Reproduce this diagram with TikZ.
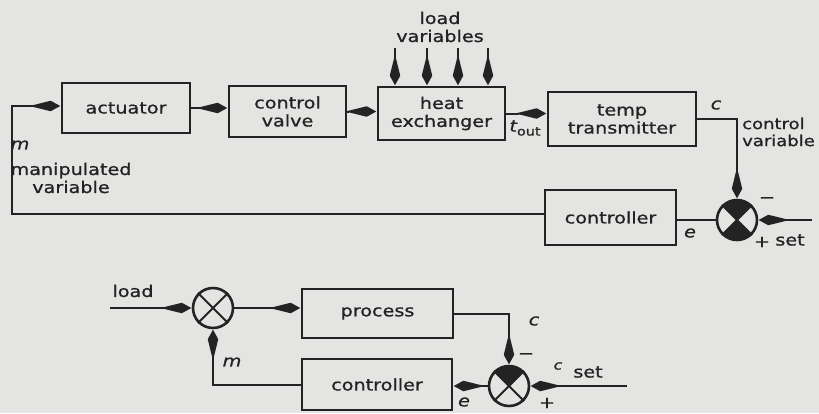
\documentclass[tikz,border=0pt]{standalone}
\usepackage{fontspec}
\setmainfont{DejaVu Sans}[FakeStretch=1.2, FakeBold=1]
\usetikzlibrary{arrows.meta}
\definecolor{paper}{RGB}{228,228,226}
\definecolor{ink}{RGB}{35,35,35}
\begin{document}
\begin{tikzpicture}[x=1pt,y=-1pt,
  blk/.style={draw=ink, line width=2.8pt, inner sep=0pt, align=center,
    font=\fontsize{16}{18}\selectfont, text=ink},
  lbl/.style={font=\fontsize{16}{18}\selectfont, text=ink, inner sep=0pt, align=center},
  ital/.style={font=\fontsize{16}{18}\selectfont\itshape, text=ink, inner sep=0pt},
  sumj/.style={circle, draw=ink, line width=2.6pt, minimum size=40pt, inner sep=0pt},
  conn/.style={draw=ink, line width=2pt},
  xl/.style={draw=ink, line width=1.8pt},
  arr/.style={conn, -{Stealth[length=10pt,width=9pt,inset=-22pt]}}]
\fill[paper] (0,0) rectangle (819,413);
\useasboundingbox (0,0) rectangle (819,413);

% ---------- upper diagram ----------
\node[blk, minimum width=128pt, minimum height=50pt] (act) at (126,108) {actuator};
\node[blk, minimum width=117pt, minimum height=51pt] (valve) at (287.5,111.5) {control\\valve};
\node[blk, minimum width=127pt, minimum height=53pt] (hx) at (441.5,113.5) {heat\\exchanger};
\node[blk, minimum width=148pt, minimum height=54pt] (tt) at (622,119) {temp\\transmitter};
\node[blk, minimum width=131pt, minimum height=55pt] (ctl) at (610.5,217.5) {controller};
\node[sumj] (sum1) at (737,220) {};

\begin{scope}
  \clip (sum1.center) circle[radius=20pt];
  \fill[ink] (sum1.center) -- ++(-30,-30) -- ++(60,0) -- cycle;
  \fill[ink] (sum1.center) -- ++(-30,30) -- ++(60,0) -- cycle;
\end{scope}
\draw[xl] (sum1.north west) -- (sum1.south east) (sum1.north east) -- (sum1.south west);

\draw[arr] (act.east) -- (act.east -| valve.west);
\draw[arr] (valve.east) -- (valve.east -| hx.west);
\draw[arr] (hx.east) -- (hx.east -| tt.west);
\coordinate (tcor) at (737,119);
\draw[arr] (tt.east) -- (tcor) -- (sum1.north);
\draw[conn] (sum1.west) -- (sum1.west -| ctl.east);
\coordinate (set1) at (812,220);
\draw[arr] (set1) -- (sum1.east);
\coordinate (fb1) at (12,214);
\coordinate (fb2) at (12,106);
\draw[arr] (ctl.west |- fb1) -- (fb1) -- (fb2) -- (fb2 -| act.west);

\coordinate (lv1) at (395,48);
\coordinate (lv2) at (427,48);
\coordinate (lv3) at (458,48);
\coordinate (lv4) at (488,48);
\draw[arr] (lv1) -- (lv1 |- hx.north);
\draw[arr] (lv2) -- (lv2 |- hx.north);
\draw[arr] (lv3) -- (lv3 |- hx.north);
\draw[arr] (lv4) -- (lv4 |- hx.north);

\node[lbl] (lvtxt) at (440,27) {load\\variables};
\node[ital] (tout) at (525,128) {t\raisebox{-4pt}{\fontsize{12}{12}\selectfont\upshape out}};
\node[ital] (clab) at (716,105) {c};
\node[lbl, align=left, anchor=west, font=\fontsize{15}{17}\selectfont] (cvtxt) at (742,132) {control\\variable};
\node[ital] (mlab) at (20,145) {m};
\node[lbl] (mvtxt) at (71,178) {manipulated\\variable};
\node[ital] (elab) at (690,233) {e};
\node[lbl] (minus1) at (767,200) {−};
\node[lbl] (plus1) at (762,242) {+};
\node[lbl] (set1txt) at (790,240) {set};

% ---------- lower diagram ----------
\node[sumj] (sum2) at (213,308) {};
\draw[xl] (sum2.north west) -- (sum2.south east) (sum2.north east) -- (sum2.south west);
\node[blk, minimum width=151pt, minimum height=49pt] (proc) at (377.5,313.5) {process};
\node[blk, minimum width=150pt, minimum height=51pt] (ctl2) at (377,384.5) {controller};
\node[sumj] (sum3) at (509,386) {};
\begin{scope}
  \clip (sum3.center) circle[radius=20pt];
  \fill[ink] (sum3.center) -- ++(-30,-30) -- ++(60,0) -- cycle;
\end{scope}
\draw[xl] (sum3.north west) -- (sum3.south east) (sum3.north east) -- (sum3.south west);

\coordinate (ld) at (110,308);
\draw[arr] (ld) -- (sum2.west);
\draw[arr] (sum2.east) -- (sum2.east -| proc.west);
\draw[arr] (ctl2.west) -- (ctl2.west -| sum2.south) -- (sum2.south);
\draw[arr] (proc.east) -- (proc.east -| sum3.north) -- (sum3.north);
\coordinate (set2) at (627,386);
\draw[arr] (set2) -- (sum3.east);
\draw[arr] (sum3.west) -- (sum3.west -| ctl2.east);

\node[lbl] (ldtxt) at (133,291) {load};
\node[ital] (m2lab) at (232,362) {m};
\node[ital] (c2lab) at (534,321) {c};
\node[lbl] (minus2) at (526,356) {−};
\node[ital, font=\fontsize{13}{14}\selectfont\itshape] (c3lab) at (558,366) {c};
\node[lbl] (set2txt) at (588,372) {set};
\node[lbl] (plus2) at (547,403) {+};
\node[ital] (e2lab) at (464,402) {e};
\end{tikzpicture}
\end{document}
